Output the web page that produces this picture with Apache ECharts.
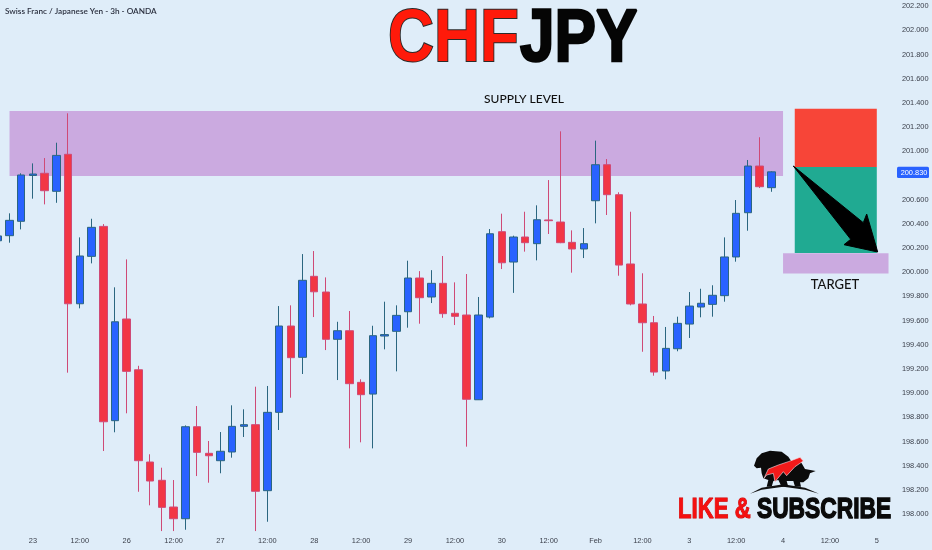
<!DOCTYPE html>
<html>
<head>
<meta charset="utf-8">
<style>html,body{margin:0;padding:0;background:#dfedf9}#c{width:932px;height:550px}</style>
<script src="https://cdn.jsdelivr.net/npm/echarts@6/dist/echarts.min.js"></script>
</head>
<body>
<div id="c"></div>
<script>
// Time-axis tick labels: one entry per 3h candle slot
const timeLabels = ['','','','23','','','','12:00','','','','26','','','','12:00','','','','27','','','','12:00','','','','28','','','','12:00','','','','29','','','','12:00','','','','30','','','','12:00','','','','Feb','','','','12:00','','','','3','','','','12:00','','','','4','','','','12:00','','','','5',''];

const opens = [200.26,200.302,200.421,200.800,200.818,200.669,200.975,199.739,200.131,200.379,198.772,199.613,199.193,198.430,198.279,198.058,197.961,198.722,198.502,198.441,198.513,198.725,198.739,198.193,198.841,199.555,199.296,199.966,199.836,199.445,199.516,199.089,198.992,199.472,199.511,199.673,199.952,199.795,199.908,199.660,199.646,198.945,199.629,200.335,200.084,200.291,200.236,200.432,200.415,200.247,200.192,200.591,200.889,200.641,200.068,199.737,199.582,199.183,199.367,199.571,199.712,199.734,199.806,200.126,200.492,200.878,200.699];
const closes = [200.30,200.429,200.804,200.812,200.674,200.966,199.739,200.134,200.371,198.763,199.590,199.180,198.441,198.273,198.055,197.961,198.722,198.510,198.482,198.519,198.725,198.739,198.188,198.841,199.555,199.293,199.933,199.838,199.445,199.516,199.078,198.987,199.475,199.484,199.643,199.952,199.789,199.908,199.657,199.635,198.949,199.646,200.318,200.078,200.291,200.244,200.434,200.426,200.244,200.192,200.236,200.889,200.641,200.059,199.737,199.582,199.174,199.370,199.577,199.720,199.743,199.809,200.126,200.487,200.878,200.707,200.830];
const lows = [200.25,200.244,200.354,200.608,200.561,200.574,199.169,199.701,200.073,198.521,198.676,198.833,198.184,198.072,197.859,197.859,197.870,198.314,198.259,198.337,198.466,198.637,197.859,197.936,198.695,198.962,199.158,199.629,199.356,199.108,198.543,198.593,198.543,199.362,199.180,199.541,199.574,199.745,199.623,199.563,198.557,198.943,199.618,200.026,199.829,200.170,200.098,200.316,200.240,199.996,200.117,200.404,200.473,199.971,199.726,199.342,199.144,199.114,199.346,199.456,199.627,199.632,199.756,200.087,200.343,200.696,200.665];
const highs = [200.307,200.487,200.818,200.900,200.944,201.071,201.314,200.288,200.442,200.398,199.875,200.106,199.226,198.494,198.383,198.281,198.733,198.893,198.604,198.678,198.899,198.866,199.053,199.059,199.720,199.726,200.150,200.175,199.957,199.590,199.679,199.114,199.557,199.756,199.726,200.095,200.009,200.017,200.134,199.916,199.985,199.795,200.357,200.484,200.302,200.500,200.553,200.762,201.165,200.346,200.365,201.088,200.936,200.661,200.500,199.991,199.638,199.547,199.632,199.836,199.863,199.892,200.288,200.597,200.928,201.116,200.835];

// Zones on the chart: [first slot, top price, last slot, bottom price]
const supplyZone = [1, 201.333, 67, 200.796];
const riskZone   = [68, 201.352, 75, 200.870];
const rewardZone = [68, 200.870, 75, 200.159];
const targetZone = [67, 200.156, 76, 199.989];
const lastPrice = '200.830';

const BG = '#dfedf9', TXT = '#3a3f4a';
const F = '"Liberation Sans", Arial, sans-serif';
const candles = opens.map((o, i) => [o, closes[i], lows[i], highs[i]]);
const zone = (z, color) => [{ coord: [z[0], z[1]], itemStyle: { color, opacity: 1 } }, { coord: [z[2], z[3]] }];

// logo outlines, traced in the crop's coordinates
const logoPt = p => [745 + p[0] / 3, 445 + p[1] / 3];
const beast = [[27,62],[35,40],[50,25],[75,17],[110,20],[130,35],[140,50],[160,42],[170,55],[180,72],[212,78],[195,85],[190,100],[175,112],[165,112],[168,125],[150,125],[145,108],[125,108],[130,125],[110,125],[100,105],[85,108],[80,125],[65,125],[70,105],[55,100],[50,85],[48,68],[35,70]].map(logoPt);
const flash = [[57,100],[70,72],[100,60],[130,50],[165,37],[175,48],[150,65],[125,92],[115,80],[90,110],[85,85],[65,90]].map(logoPt);
const arc = [[15,146],[50,128],[115,118],[180,128],[222,146],[180,134],[115,125],[50,134]].map(logoPt);
const arrow = [[793.3,166],[863.3,222.7],[866.7,214],[877.7,252],[844,244.7],[850.7,239.3]];

const bigText = (text, x, y, size, fill, sx, stroke, lw) => ({
  type: 'text', x, y, scaleX: sx, z: 20,
  style: { text, fill, font: 'bold ' + size + 'px ' + F, textVerticalAlign: 'middle', stroke, lineWidth: lw }
});
const label = (text, x, y, size) => ({
  type: 'text', x, y, z: 20,
  style: { text, fill: '#111', font: '500 ' + size + 'px Lato, ' + F, textAlign: 'center', textVerticalAlign: 'middle' }
});

const chart = echarts.init(document.getElementById('c'), null, { renderer: 'canvas' });
chart.setOption({
  animation: false,
  backgroundColor: BG,
  grid: { left: -8.06, width: 902.44, top: 6.2, height: 532, outerBoundsMode: 'none' },
  xAxis: {
    type: 'category', data: timeLabels, boundaryGap: true,
    axisLine: { show: false }, axisTick: { show: false }, splitLine: { show: false },
    axisLabel: { interval: 0, color: TXT, fontSize: 7.4, fontFamily: F, margin: 3, verticalAlign: 'middle', lineHeight: 8 }
  },
  yAxis: {
    type: 'value', position: 'right', min: 197.8, max: 202.2, interval: 0.2,
    axisLine: { show: false }, axisTick: { show: false }, splitLine: { show: false },
    axisLabel: { color: TXT, fontSize: 7.4, fontFamily: F, margin: 7.5, formatter: v => v < 197.9 ? '' : v.toFixed(3) }
  },
  series: [{
    type: 'candlestick', data: candles, barWidth: 8,
    itemStyle: { color: '#2962ff', color0: '#f23645', borderColor: '#2b6680', borderColor0: '#cf4a76', borderColorDoji: '#2b6680', borderWidth: 1 },
    markArea: {
      silent: true, z: 1,
      data: [zone(supplyZone, '#cbaae0'), zone(riskZone, '#f74538'), zone(rewardZone, '#20aa92'), zone(targetZone, '#cbaae0')]
    }
  }],
  graphic: [
    { type: 'polygon', z: 19, shape: { points: arrow }, style: { fill: '#000', stroke: '#000', lineWidth: 1, lineJoin: 'round' } },
    { type: 'polygon', z: 19, shape: { points: arc }, style: { fill: '#111' } },
    { type: 'polygon', z: 19, shape: { points: beast }, style: { fill: '#0b0b0b' } },
    { type: 'polygon', z: 19, shape: { points: flash }, style: { fill: '#f21a1a', stroke: '#f3e6ee', lineWidth: 0.6 } },
    bigText('CHF', 388, 41, 74, '#ff1a0a', 0.86, '#2b2b2b', 2),
    bigText('JPY', 520, 41, 74, '#050505', 0.84, '#050505', 2.5),
    bigText('LIKE &', 678, 510, 29, '#f41010', 0.765, '#c00', 1),
    bigText('SUBSCRIBE', 757, 510, 29, '#0a0a0a', 0.785, '#0a0a0a', 1.4),
    { type: 'text', x: 5, y: 11, z: 20, style: { text: 'Swiss Franc / Japanese Yen - 3h - OANDA', fill: '#2c3140', font: '600 8.2px Lato, ' + F, textVerticalAlign: 'middle' } },
    label('SUPPLY LEVEL', 524, 99.5, 12),
    label('TARGET', 835, 284.5, 13),
    { type: 'rect', z: 19, shape: { x: 897, y: 166.7, width: 32, height: 11.3, r: 1.5 }, style: { fill: '#2962ff' } },
    { type: 'text', x: 914, y: 172.5, z: 20, style: { text: lastPrice, fill: '#fff', font: '7.4px ' + F, textAlign: 'center', textVerticalAlign: 'middle' } }
  ]
});
</script>
</body>
</html>
